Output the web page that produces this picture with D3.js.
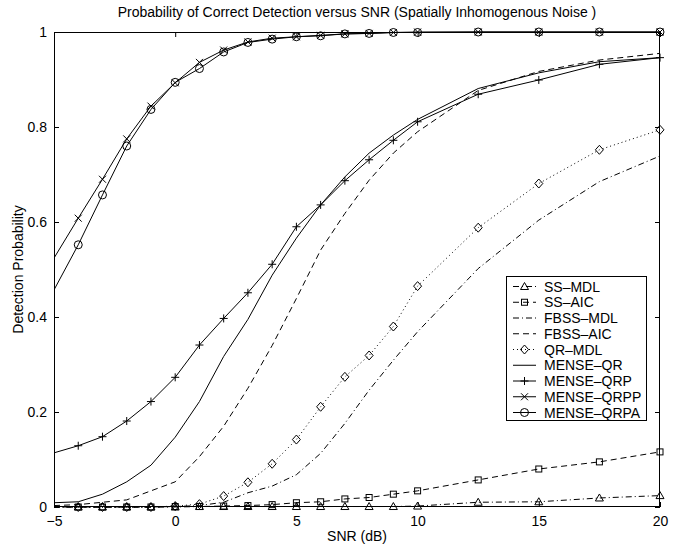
<!DOCTYPE html>
<html><head><meta charset="utf-8">
<script src="https://cdn.jsdelivr.net/npm/d3@7"></script>
<style>
html,body{margin:0;padding:0;background:#fff;}
svg text{font-family:"Liberation Sans",Arial,Helvetica,sans-serif;fill:#000;}
</style></head>
<body>
<svg id="chart" width="679" height="548"></svg>
<script>
const snr = [-5,-4,-3,-2,-1,0,1,2,3,4,5,6,7,8,9,10,12.5,15,17.5,20];
const ssMdl    = [0,0,0,0,0,0,0.001,0.001,0.001,0.001,0.001,0.001,0.001,0.001,0.001,0.002,0.010,0.011,0.019,0.024];
const ssAic    = [0,0,0,0,0,0.001,0.001,0.002,0.003,0.005,0.009,0.011,0.017,0.020,0.027,0.034,0.057,0.080,0.095,0.116];
const fbssMdl  = [0,0,0,0,0,0.001,0.003,0.010,0.030,0.044,0.068,0.113,0.176,0.246,0.309,0.369,0.502,0.604,0.685,0.739];
const fbssAic  = [0.003,0.005,0.010,0.015,0.034,0.053,0.106,0.170,0.250,0.340,0.439,0.541,0.618,0.688,0.745,0.790,0.877,0.917,0.941,0.955];
const qrMdl    = [0,0,0,0,0,0.002,0.006,0.023,0.052,0.091,0.142,0.211,0.274,0.319,0.380,0.465,0.588,0.681,0.752,0.794];
const menseQr  = [0.009,0.011,0.027,0.053,0.088,0.147,0.222,0.317,0.395,0.488,0.566,0.636,0.695,0.745,0.783,0.816,0.881,0.914,0.9375,0.946];
const menseQrp = [0.114,0.129,0.148,0.181,0.222,0.273,0.341,0.397,0.451,0.511,0.590,0.636,0.687,0.731,0.772,0.811,0.869,0.899,0.932,0.946];
const menseQrpp= [0.524,0.608,0.690,0.775,0.844,0.893,0.936,0.962,0.979,0.987,0.990,0.993,0.996,0.997,0.999,1,1,1,1,1];
const menseQrpa= [0.457,0.552,0.657,0.760,0.837,0.894,0.923,0.958,0.978,0.985,0.990,0.992,0.996,0.997,0.999,0.999,1,1,1,1];

const seriesNames = ["SS\u2013MDL","SS\u2013AIC","FBSS\u2013MDL","FBSS\u2013AIC","QR\u2013MDL","MENSE\u2013QR","MENSE\u2013QRP","MENSE\u2013QRPP","MENSE\u2013QRPA"];
const seriesValues = [ssMdl, ssAic, fbssMdl, fbssAic, qrMdl, menseQr, menseQrp, menseQrpp, menseQrpa];
const xTicks = [-5,0,5,10,15,20];
const yTicks = [0,0.2,0.4,0.6,0.8,1];
const titleText = "Probability of Correct Detection versus SNR (Spatially Inhomogenous Noise )";
const xLabel = "SNR (dB)";
const yLabel = "Detection Probability";

// styles
const dashes = ["6,3,1,3","6,4",  "6,3,1,3","6,4","1,3", null, null, null, null];
const markers = ["tri","sq",null,null,"dia",null,"plus","cross","circ"];
const FS = 14;

const L=54, R=660, T=32, B=507;
const svg = d3.select("#chart");
const x = d3.scaleLinear().domain([-5,20]).range([L,R]);
const y = d3.scaleLinear().domain([0,1]).range([B,T]);

svg.append("defs").append("clipPath").attr("id","clip")
  .append("rect").attr("x",L).attr("y",T-1).attr("width",R-L).attr("height",B-T+2);

const fmt = d => d3.format("")(d);
const gx = svg.append("g").attr("transform",`translate(0,${B})`)
  .call(d3.axisBottom(x).tickValues(xTicks).tickSize(-5).tickPadding(9).tickFormat(fmt));
const gxt = svg.append("g").attr("transform",`translate(0,${T})`)
  .call(d3.axisTop(x).tickValues(xTicks).tickSize(-5).tickFormat(""));
const gy = svg.append("g").attr("transform",`translate(${L},0)`)
  .call(d3.axisLeft(y).tickValues(yTicks).tickSize(-5).tickPadding(7).tickFormat(fmt));
const gyr = svg.append("g").attr("transform",`translate(${R},0)`)
  .call(d3.axisRight(y).tickValues(yTicks).tickSize(-5).tickFormat(""));
[gx,gxt,gy,gyr].forEach(g=>{
  g.select(".domain").remove();
  g.selectAll("line").attr("stroke","#000").attr("stroke-width",1);
  g.selectAll("text").attr("font-size",FS).attr("font-family","Liberation Sans, Arial, sans-serif").attr("fill","#000");
});
svg.append("rect").attr("x",L+0.5).attr("y",T+0.5).attr("width",R-L-1).attr("height",B-T-1)
  .attr("fill","none").attr("stroke","#000").attr("stroke-width",1);

svg.append("text").attr("x",(L+R)/2).attr("y",17).attr("text-anchor","middle").attr("font-size",FS).text(titleText);
svg.append("text").attr("x",(L+R)/2).attr("y",541).attr("text-anchor","middle").attr("font-size",FS).text(xLabel);
svg.append("text").attr("transform",`translate(23,${(T+B)/2}) rotate(-90)`).attr("text-anchor","middle").attr("font-size",FS).text(yLabel);

function drawMarker(g, type, cx, cy){
  const s = 3.5;
  let el;
  if(type==="tri"){
    el = g.append("path").attr("d",`M${cx},${cy-s-0.5}L${cx+s+0.5},${cy+s-0.5}L${cx-s-0.5},${cy+s-0.5}Z`);
  } else if(type==="sq"){
    el = g.append("rect").attr("x",cx-3).attr("y",cy-3).attr("width",6).attr("height",6);
  } else if(type==="dia"){
    el = g.append("path").attr("d",`M${cx},${cy-4.5}L${cx+4},${cy}L${cx},${cy+4.5}L${cx-4},${cy}Z`);
  } else if(type==="plus"){
    el = g.append("path").attr("d",`M${cx-4},${cy}H${cx+4}M${cx},${cy-4}V${cy+4}`);
  } else if(type==="cross"){
    el = g.append("path").attr("d",`M${cx-3.5},${cy-3.5}L${cx+3.5},${cy+3.5}M${cx-3.5},${cy+3.5}L${cx+3.5},${cy-3.5}`);
  } else if(type==="circ"){
    el = g.append("circle").attr("cx",cx).attr("cy",cy).attr("r",4);
  }
  if(el) el.attr("fill","none").attr("stroke","#000").attr("stroke-width",1);
}

const line = d3.line().x(d=>x(d[0])).y(d=>y(d[1]));
const plot = svg.append("g");
seriesValues.forEach((vals,i)=>{
  const pts = snr.map((s,j)=>[s,vals[j]]);
  const p = plot.append("path").datum(pts).attr("d",line).attr("fill","none")
    .attr("stroke","#000").attr("stroke-width",1).attr("clip-path","url(#clip)");
  if(dashes[i]) p.attr("stroke-dasharray",dashes[i]);
  if(markers[i]){
    const mg = plot.append("g");
    pts.forEach((d,j)=>{ if(j>0) drawMarker(mg, markers[i], x(d[0]), y(d[1])); });
  }
});

// legend
const lg = svg.append("g");
const lx=506, ly=276, lw=140, lh=144, rowH=15.75;
lg.append("rect").attr("x",lx+0.5).attr("y",ly+0.5).attr("width",lw).attr("height",lh)
  .attr("fill","#fff").attr("stroke","#000").attr("stroke-width",1);
seriesNames.forEach((name,i)=>{
  const cy = ly + 10.5 + i*rowH;
  const ln = lg.append("line").attr("x1",lx+7).attr("x2",lx+30).attr("y1",cy).attr("y2",cy)
    .attr("stroke","#000").attr("stroke-width",1);
  if(dashes[i]) ln.attr("stroke-dasharray",dashes[i]);
  if(markers[i]) drawMarker(lg, markers[i], lx+18.5, cy);
  lg.append("text").attr("x",lx+38).attr("y",cy+5).attr("font-size",FS).text(name);
});
</script>
</body></html>
